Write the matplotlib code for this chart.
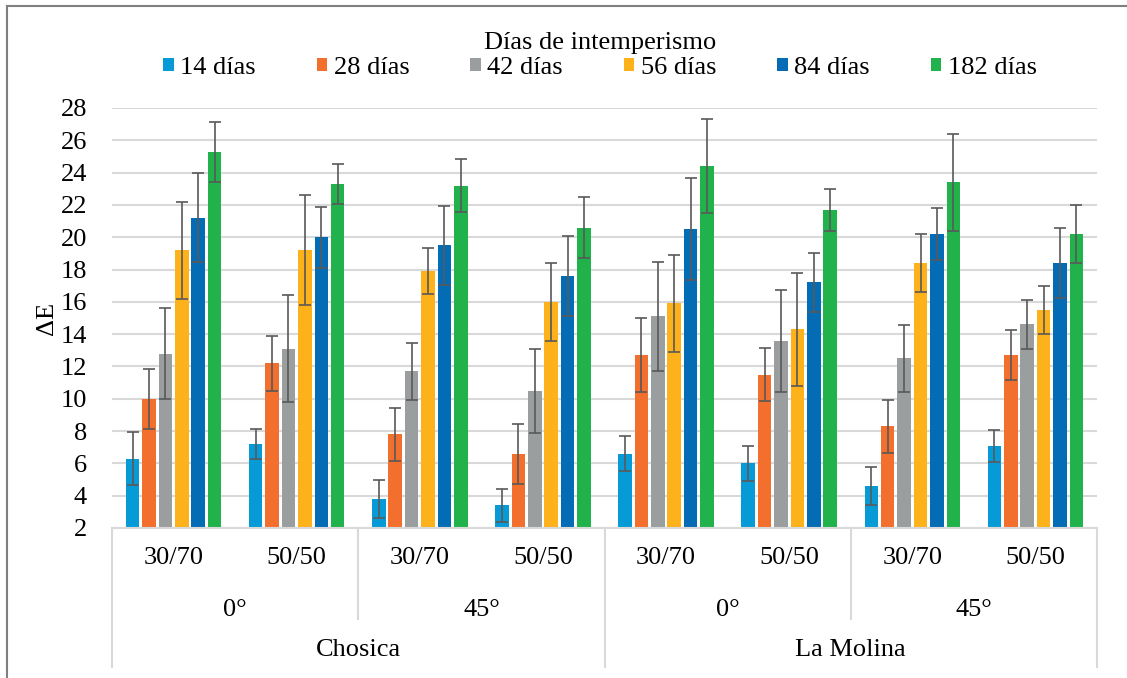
import numpy as np
import matplotlib
matplotlib.use('Agg')
import matplotlib.pyplot as plt
from matplotlib.patches import Patch
from matplotlib.lines import Line2D

plt.rcParams['font.family'] = ['Liberation Serif', 'DejaVu Serif']

# datos
sub_labels = ['30/70', '50/50', '30/70', '50/50', '30/70', '50/50', '30/70', '50/50']
angle_labels = ['0°', '45°', '0°', '45°']
site_labels = ['Chosica', 'La Molina']
series_names = ['14 días', '28 días', '42 días', '56 días', '84 días', '182 días']

d14 = [6.3, 7.2, 3.8, 3.4, 6.6, 6.0, 4.6, 7.1]
d28 = [10.0, 12.2, 7.8, 6.6, 12.7, 11.5, 8.3, 12.7]
d42 = [12.8, 13.1, 11.7, 10.5, 15.1, 13.6, 12.5, 14.6]
d56 = [19.2, 19.2, 17.9, 16.0, 15.9, 14.3, 18.4, 15.5]
d84 = [21.2, 20.0, 19.5, 17.6, 20.5, 17.2, 20.2, 18.4]
d182 = [25.3, 23.3, 23.2, 20.6, 24.4, 21.7, 23.4, 20.2]

e14 = [1.65, 0.95, 1.15, 1.03, 1.08, 1.07, 1.15, 0.99]
e28 = [1.85, 1.7, 1.64, 1.85, 2.3, 1.64, 1.64, 1.54]
e42 = [2.8, 3.3, 1.77, 2.59, 3.37, 3.16, 2.05, 1.5]
e56 = [3.0, 3.4, 1.44, 2.4, 3.03, 3.5, 1.77, 1.47]
e84 = [2.75, 1.9, 2.45, 2.5, 3.14, 1.8, 1.64, 2.18]
e182 = [1.85, 1.23, 1.65, 1.91, 2.9, 1.3, 3.02, 1.79]

means = [d14, d28, d42, d56, d84, d182]
errs = [e14, e28, e42, e56, e84, e182]
colors = ['#069BD6', '#F36F2E', '#9B9E9F', '#FDB11A', '#046CB5', '#21B24B']

W, H = 1127, 678
fig = plt.figure(figsize=(W / 100, H / 100), dpi=100)
ax = fig.add_axes([112 / W, (H - 528) / H, 985 / W, 420 / H])

x = np.arange(len(sub_labels))
pitch = 0.1333
bw = 0.11
for i, (m, e, c) in enumerate(zip(means, errs, colors)):
    xs = x + (i - 2.5) * pitch
    ax.bar(xs, m, width=bw, color=c, zorder=2)
    ax.errorbar(xs, m, yerr=e, fmt='none', ecolor='#595959', elinewidth=1.2,
                capsize=4.3, capthick=1.2, zorder=3)

ax.set_xlim(-0.5, len(sub_labels) - 0.5)
ax.set_ylim(2, 28)
ax.set_yticks(np.arange(2, 29, 2))
ax.tick_params(axis='y', length=0, pad=18, labelsize=19)
ax.set_xticks([])
ax.yaxis.grid(True, color='#D9D9D9', linewidth=1.5, zorder=0)
ax.set_axisbelow(True)
for s in ['left', 'right', 'top']:
    ax.spines[s].set_visible(False)
ax.spines['bottom'].set_color('#D9D9D9')
ax.spines['bottom'].set_linewidth(1.5)
ax.set_ylabel('ΔE', fontsize=19, labelpad=2)

# ejes de categorias de varios niveles
tr = ax.get_xaxis_transform()
for xi, lab in zip(x, sub_labels):
    ax.text(xi, -0.072, lab, transform=tr, ha='center', va='center', fontsize=19, clip_on=False)
for k, lab in enumerate(angle_labels):
    ax.text(2 * k + 0.5, -0.195, lab, transform=tr, ha='center', va='center', fontsize=19, clip_on=False)
for k, lab in enumerate(site_labels):
    ax.text(4 * k + 1.5, -0.29, lab, transform=tr, ha='center', va='center', fontsize=19, clip_on=False)
for xb in [-0.5, 3.5, 7.5]:
    ax.add_line(Line2D([xb, xb], [0, -0.33], transform=tr, color='#D9D9D9', lw=1.5, clip_on=False))
for xb in [1.5, 5.5]:
    ax.add_line(Line2D([xb, xb], [0, -0.217], transform=tr, color='#D9D9D9', lw=1.5, clip_on=False))

handles = [Patch(facecolor=c, edgecolor='none') for c in colors]
leg = fig.legend(handles, series_names, loc='upper center', bbox_to_anchor=(600 / W, 1 - 16 / H),
                 ncol=6, frameon=False, fontsize=19, title='Días de intemperismo', title_fontsize=19,
                 handlelength=0.4, handleheight=0.4, handletextpad=0.25, columnspacing=2.3,
                 borderpad=0.1, labelspacing=0.2)
leg._legend_box.sep = 2

# marco exterior
fig.add_artist(Line2D([7 / W, 7 / W], [0, 1 - 6 / H], transform=fig.transFigure, color='#7F7F7F', lw=1.5))
fig.add_artist(Line2D([7 / W, 1], [1 - 6 / H, 1 - 6 / H], transform=fig.transFigure, color='#7F7F7F', lw=1.5))

fig.savefig('out.png', dpi=100)
